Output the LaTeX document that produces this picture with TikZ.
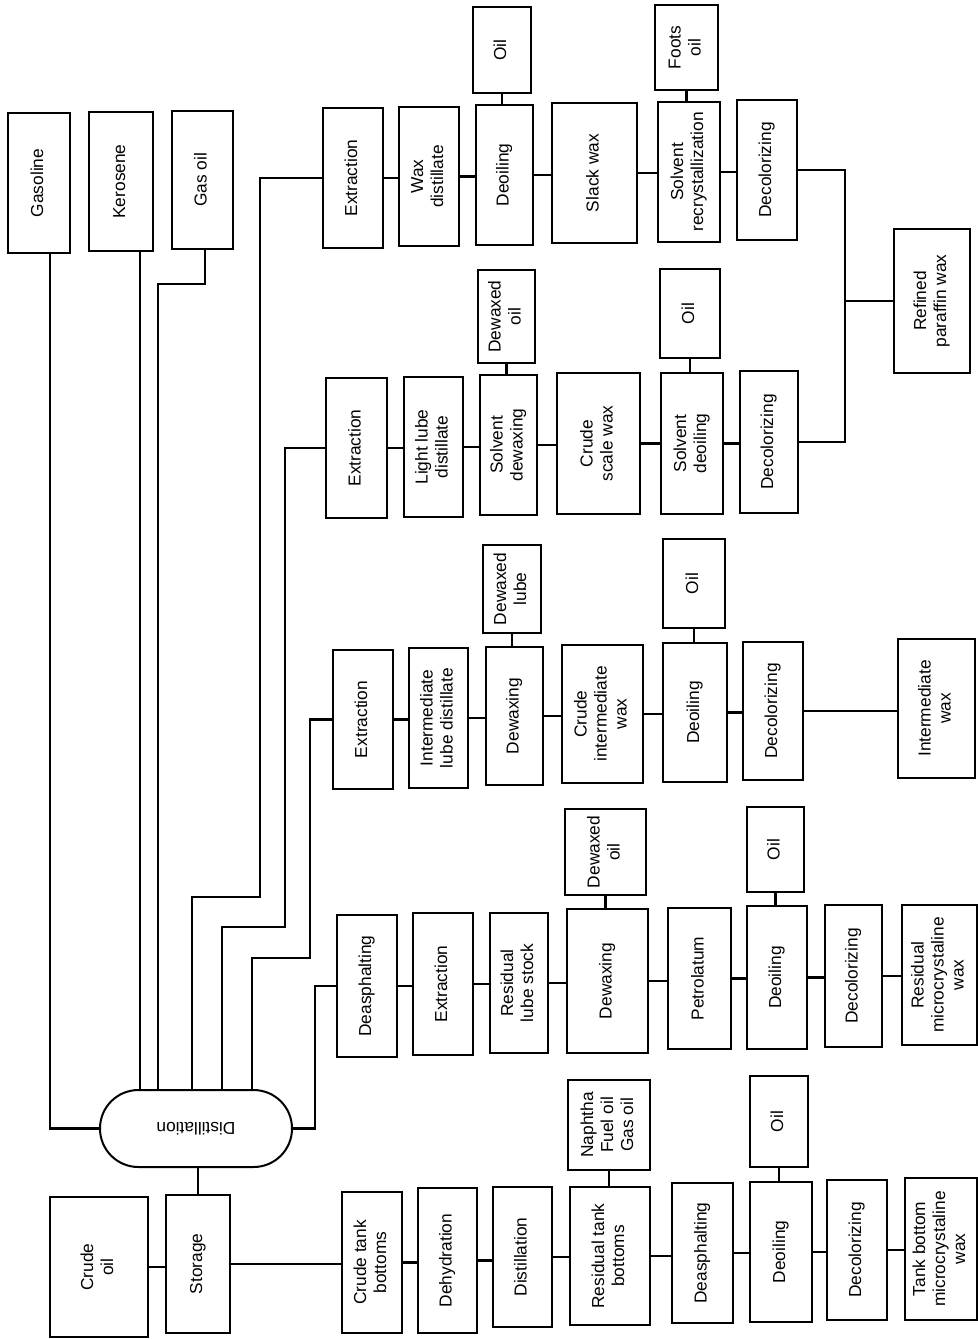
\documentclass[tikz,border=0pt]{standalone}
\usepackage{fontspec}
\setmainfont{Liberation Sans}
\usepackage{graphicx}
\newcommand\rtx[1]{\rotatebox{90}{\begin{tabular}{@{}c@{}}#1\end{tabular}}}
\newcommand\mybox[6]{\node[bx, minimum width={(#4-#2)*0.75pt}, minimum height={(#5-#3)*0.75pt}] (#1) at ({(#2+#4)/2},{(#3+#5)/2}) {\rtx{#6}};}
\begin{document}
\begin{tikzpicture}[x=0.75pt,y=-0.75pt, font=\fontsize{13}{15}\selectfont, line width=1.5pt,
  bx/.style={draw, rectangle, inner sep=0pt, line width=1.5pt},
  link/.style={draw, line width=1.6pt}]
\useasboundingbox (0,0) rectangle (978,1339);
% left column
\mybox{gas}{8}{113}{70}{253}{Gasoline}
\mybox{ker}{89}{112}{153}{251}{Kerosene}
\mybox{gso}{172}{111}{233}{249}{Gas oil}
\mybox{crude}{50}{1197}{148}{1337}{Crude\\oil}
\mybox{stor}{166}{1195}{230}{1333}{Storage}
\node[draw, rectangle, rounded corners=28.8pt, inner sep=0pt, line width=1.5pt, minimum width=144pt, minimum height=57.75pt] (dist) at (196,1128.5) {\rotatebox{180}{Distillation}};
% row A
\mybox{exA}{323}{108}{383}{248}{Extraction}
\mybox{wdA}{399}{107}{459}{246}{Wax\\distillate}
\mybox{deoA}{476}{105}{533}{245}{Deoiling}
\mybox{oilA}{473}{7}{531}{93}{Oil}
\mybox{slA}{552}{103}{637}{243}{Slack wax}
\mybox{srA}{658}{102}{720}{242}{Solvent\\recrystallization}
\mybox{foA}{655}{5}{718}{90}{Foots\\oil}
\mybox{dcA}{737}{100}{797}{240}{Decolorizing}
% row B
\mybox{exB}{326}{378}{387}{518}{Extraction}
\mybox{llB}{404}{377}{463}{517}{Light lube\\distillate}
\mybox{sdB}{480}{375}{537}{515}{Solvent\\dewaxing}
\mybox{dwoB}{478}{270}{535}{363}{Dewaxed\\oil}
\mybox{csB}{557}{373}{640}{514}{Crude\\scale wax}
\mybox{sdoB}{661}{373}{723}{514}{Solvent\\deoiling}
\mybox{oilB}{660}{269}{720}{358}{Oil}
\mybox{dcB}{740}{371}{798}{513}{Decolorizing}
\mybox{rpw}{894}{229}{970}{373}{Refined\\paraffin wax}
% row C
\mybox{exC}{333}{650}{393}{789}{Extraction}
\mybox{ilC}{409}{648}{468}{788}{Intermediate\\lube distillate}
\mybox{dwC}{486}{647}{543}{785}{Dewaxing}
\mybox{dlC}{483}{545}{541}{633}{Dewaxed\\lube}
\mybox{ciC}{562}{645}{643}{783}{Crude\\intermediate\\wax}
\mybox{deoC}{663}{643}{727}{782}{Deoiling}
\mybox{oilC}{663}{539}{725}{628}{Oil}
\mybox{dcC}{743}{642}{803}{780}{Decolorizing}
\mybox{iw}{898}{639}{975}{778}{Intermediate\\wax}
% row D
\mybox{daD}{337}{915}{397}{1057}{Deasphalting}
\mybox{exD}{413}{913}{473}{1055}{Extraction}
\mybox{rlD}{490}{913}{548}{1053}{Residual\\lube stock}
\mybox{dwD}{567}{909}{648}{1053}{Dewaxing}
\mybox{dwoD}{565}{809}{646}{895}{Dewaxed\\oil}
\mybox{ptD}{668}{908}{731}{1049}{Petrolatum}
\mybox{deoD}{747}{906}{807}{1049}{Deoiling}
\mybox{oilD}{747}{807}{804}{892}{Oil}
\mybox{dcD}{825}{905}{882}{1047}{Decolorizing}
\mybox{rmw}{902}{905}{977}{1045}{Residual\\microcrystaline\\wax}
% row E
\mybox{ctb}{342}{1192}{402}{1333}{Crude tank\\bottoms}
\mybox{dhE}{418}{1188}{477}{1333}{Dehydration}
\mybox{diE}{493}{1187}{552}{1327}{Distillation}
\mybox{rtb}{570}{1187}{650}{1325}{Residual tank\\bottoms}
\mybox{nap}{568}{1080}{650}{1170}{Naphtha\\Fuel oil\\Gas oil}
\mybox{daE}{672}{1183}{733}{1323}{Deasphalting}
\mybox{deoE}{750}{1182}{812}{1322}{Deoiling}
\mybox{oilE}{750}{1076}{808}{1167}{Oil}
\mybox{dcE}{827}{1180}{887}{1320}{Decolorizing}
\mybox{tbw}{905}{1178}{977}{1320}{Tank bottom\\microcrystaline\\wax}
% helper coordinates
\coordinate (xg) at (50,0);
\coordinate (xk) at (140,0);
\coordinate (g1) at (205,284);
\coordinate (g2) at (158,284);
\coordinate (a1) at (260,897);
\coordinate (a2) at (192,897);
\coordinate (b1) at (285,927);
\coordinate (b2) at (222,927);
\coordinate (c1) at (310,958);
\coordinate (c2) at (252,958);
\coordinate (d1) at (315,0);
\coordinate (p1) at (845,0);
% distillation feeds
\draw[link] (gas.south -| xg) |- (dist.west);
\draw[link] (ker.south -| xk) -- (dist.north -| xk);
\draw[link] (gso.south -| g1) -- (g1) -- (g2) -- (dist.north -| g2);
\draw[link] (exA.west) -| (a1) -- (a2) -- (dist.north -| a2);
\draw[link] (exB.west) -| (b1) -- (b2) -- (dist.north -| b2);
\draw[link] (exC.west) -| (c1) -- (c2) -- (dist.north -| c2);
\draw[link] (dist.east) -| (d1 |- daD.west) -- (daD.west);
\draw[link] (stor.north) -- (stor.north |- dist.south);
\draw[link] (crude.east) -- (crude.east -| stor.west);
\draw[link] (stor.east) -- (stor.east -| ctb.west);
% chains
\foreach \a/\b in {exA/wdA, wdA/deoA, deoA/slA, slA/srA, srA/dcA,
  exB/llB, llB/sdB, sdB/csB, csB/sdoB, sdoB/dcB,
  exC/ilC, ilC/dwC, dwC/ciC, ciC/deoC, deoC/dcC, dcC/iw,
  daD/exD, exD/rlD, rlD/dwD, dwD/ptD, ptD/deoD, deoD/dcD, dcD/rmw,
  ctb/dhE, dhE/diE, diE/rtb, rtb/daE, daE/deoE, deoE/dcE, dcE/tbw}
  \draw[link] (\a.east) -- (\a.east -| \b.west);
% side products
\foreach \a/\b in {oilA/deoA, foA/srA, dwoB/sdB, oilB/sdoB, dlC/dwC, oilC/deoC,
  dwoD/dwD, oilD/deoD, nap/rtb, oilE/deoE}
  \draw[link] (\a.south) -- (\a.south |- \b.north);
% refined paraffin wax
\draw[link] (dcA.east) -| (p1 |- dcB.east) -- (dcB.east);
\draw[link] (rpw.west) -- (rpw.west -| p1);
\end{tikzpicture}
\end{document}
